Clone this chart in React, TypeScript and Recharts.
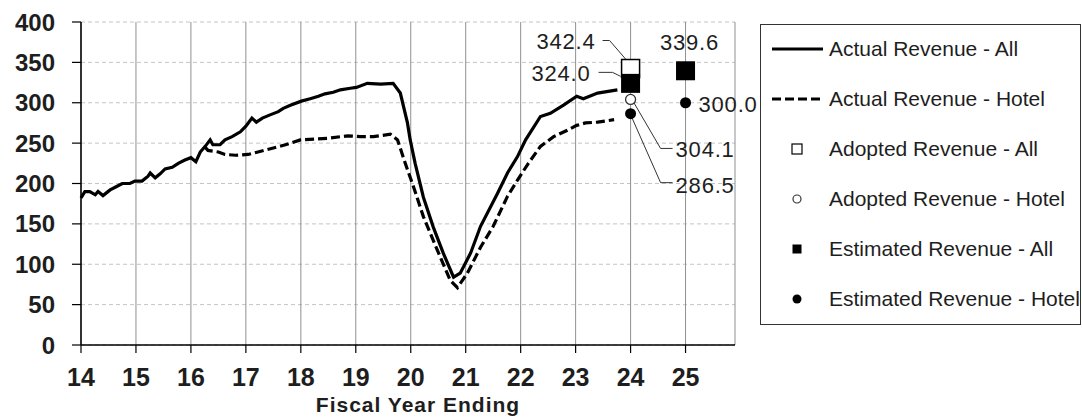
import React from "react"
import {
  ComposedChart,
  Line,
  Scatter,
  XAxis,
  YAxis,
  CartesianGrid,
} from "recharts"

// fiscal year (decimal) and revenue
const actualAll: [number, number][] = [
  [14.0, 182], [14.07, 190], [14.16, 190], [14.26, 186], [14.31, 190], [14.4, 185],
  [14.53, 192], [14.64, 196], [14.75, 200], [14.89, 200], [14.98, 203], [15.11, 203],
  [15.22, 209], [15.26, 213], [15.35, 207], [15.44, 212], [15.53, 218], [15.66, 220],
  [15.77, 225], [15.89, 229], [16.0, 232], [16.09, 227], [16.17, 239], [16.26, 246],
  [16.35, 254], [16.4, 248], [16.53, 248], [16.62, 254], [16.75, 258], [16.9, 264],
  [17.0, 271], [17.11, 281], [17.19, 276], [17.3, 281], [17.44, 285], [17.59, 289],
  [17.68, 293], [17.81, 297], [18.01, 302], [18.17, 305], [18.32, 308], [18.44, 311],
  [18.59, 313], [18.72, 316], [18.9, 318], [19.01, 319], [19.21, 324], [19.45, 323],
  [19.68, 324], [19.81, 312], [19.94, 275], [19.99, 254], [20.08, 225], [20.23, 183],
  [20.41, 146], [20.59, 114], [20.76, 87], [20.78, 84], [20.9, 89], [21.09, 114],
  [21.27, 147], [21.58, 188], [21.76, 213], [21.94, 233], [22.09, 254], [22.36, 283],
  [22.54, 287], [22.78, 297], [23.02, 308], [23.14, 305], [23.4, 312], [23.76, 316],
]

const actualHotel: [number, number][] = [
  [16.26, 245], [16.31, 241], [16.5, 239], [16.62, 236], [16.81, 235], [17.04, 236],
  [17.22, 239], [17.5, 244], [17.72, 248], [17.99, 254], [18.26, 255], [18.48, 256],
  [18.85, 259], [19.08, 258], [19.32, 258], [19.63, 261], [19.76, 254], [19.9, 225],
  [20.05, 196], [20.23, 159], [20.48, 118], [20.72, 80], [20.85, 71], [21.03, 89],
  [21.27, 121], [21.5, 147], [21.76, 184], [21.94, 204], [22.14, 225], [22.36, 246],
  [22.6, 258], [22.85, 266], [23.02, 272], [23.18, 275], [23.4, 276], [23.7, 279],
]

const adoptedAll: [number, number][] = [[24, 342.4]]
const adoptedHotel: [number, number][] = [[24, 304.1]]
const estimatedAll: [number, number][] = [[24, 324.0], [25, 339.6]]
const estimatedHotel: [number, number][] = [[24, 286.5], [25, 300.0]]

const xTicks = [14, 15, 16, 17, 18, 19, 20, 21, 22, 23, 24, 25]
const yTicks = [0, 50, 100, 150, 200, 250, 300, 350, 400]

const legendNames = [
  "Actual Revenue - All",
  "Actual Revenue - Hotel",
  "Adopted Revenue - All",
  "Adopted Revenue - Hotel",
  "Estimated Revenue - All",
  "Estimated Revenue - Hotel",
]

const FONT = '"Liberation Sans", Arial, sans-serif'
const TEXT = "#1e1e1e"

const toPoints = (rows: [number, number][]) => rows.map(([t, v]) => ({ t, v }))

// where each value label sits relative to its marker
type LabelSpot = { dx: number; dy: number; anchor: "start" | "middle" | "end"; leader?: string }
const labelSpots: Record<string, LabelSpot> = {
  "adoptedAll-24": { dx: -35, dy: -20, anchor: "end", leader: "M-28,-28 H-21 L-2,-6" },
  "estimatedAll-24": { dx: -40, dy: -2, anchor: "end", leader: "M-32,-11 H-18 L-10,-7" },
  "estimatedAll-25": { dx: 4, dy: -21, anchor: "middle" },
  "estimatedHotel-25": { dx: 13, dy: 9, anchor: "start" },
  "adoptedHotel-24": { dx: 45, dy: 58, anchor: "start", leader: "M2,1 L30,49 H42" },
  "estimatedHotel-24": { dx: 45, dy: 79, anchor: "start", leader: "M0,1 L30,69 H42" },
}

function ValueLabel({ id, cx, cy, t, v }: any) {
  const spot = labelSpots[`${id}-${t}`]
  if (!spot) return null
  return (
    <g>
      {spot.leader && (
        <path
          d={spot.leader}
          transform={`translate(${cx},${cy})`}
          fill="none"
          stroke="#333"
          strokeWidth={1}
        />
      )}
      <text
        x={cx + spot.dx}
        y={cy + spot.dy}
        textAnchor={spot.anchor}
        fontFamily={FONT}
        fontSize={22}
        letterSpacing={0.8}
        fill={TEXT}
      >
        {v.toFixed(1)}
      </text>
    </g>
  )
}

const makeShape = (id: string, kind: "hollowSquare" | "square" | "hollowCircle" | "circle") =>
  (props: any) => {
    const { cx, cy, payload } = props
    let mark = null
    if (kind === "hollowSquare")
      mark = <rect x={cx - 9} y={cy - 9} width={18} height={18} fill="#fff" stroke="#000" strokeWidth={1.5} />
    if (kind === "square")
      mark = <rect x={cx - 9.5} y={cy - 9.5} width={19} height={19} fill="#000" />
    if (kind === "hollowCircle")
      mark = <circle cx={cx} cy={cy} r={5} fill="#fff" stroke="#333" strokeWidth={1.3} />
    if (kind === "circle") mark = <circle cx={cx} cy={cy} r={5.5} fill="#000" />
    return (
      <g>
        <ValueLabel id={id} cx={cx} cy={cy} t={payload.t} v={payload.v} />
        {mark}
      </g>
    )
  }

function AxisTitle(props: any) {
  const vb = props.viewBox
  if (!vb) return null
  return (
    <text
      x={vb.x + vb.width / 2 + 10}
      y={vb.y + vb.height - 6}
      textAnchor="middle"
      fontFamily={FONT}
      fontWeight="bold"
      fontSize={21}
      letterSpacing={1}
      fill={TEXT}
    >
      Fiscal Year Ending
    </text>
  )
}

function LegendSymbol({ index }: { index: number }) {
  const cy = 25
  switch (index) {
    case 0:
      return <line x1={0} x2={51} y1={cy} y2={cy} stroke="#000" strokeWidth={3} />
    case 1:
      return <line x1={0} x2={51} y1={cy} y2={cy} stroke="#000" strokeWidth={3} strokeDasharray="9 4" />
    case 2:
      return <rect x={20} y={cy - 5} width={10} height={10} fill="#fff" stroke="#000" strokeWidth={1.2} />
    case 3:
      return <circle cx={25} cy={cy} r={4} fill="#fff" stroke="#333" strokeWidth={1.2} />
    case 4:
      return <rect x={20.5} y={cy - 4.5} width={9} height={9} fill="#000" />
    default:
      return <circle cx={25} cy={cy} r={4.5} fill="#000" />
  }
}

function LegendBox() {
  return (
    <div
      style={{
        position: "absolute",
        left: 760,
        top: 24,
        width: 321,
        height: 301,
        boxSizing: "border-box",
        border: "1px solid #333",
        background: "#fff",
      }}
    >
      {legendNames.map((name, i) => (
        <div
          key={name}
          style={{ position: "absolute", left: 0, top: i * 50 - 1, height: 50, width: 319 }}
        >
          <svg width={52} height={50} style={{ position: "absolute", left: 11, top: 0 }}>
            <LegendSymbol index={i} />
          </svg>
          <span
            style={{
              position: "absolute",
              left: 68,
              top: 0,
              lineHeight: "50px",
              fontFamily: FONT,
              fontSize: 21,
              color: TEXT,
              whiteSpace: "nowrap",
            }}
          >
            {name}
          </span>
        </div>
      ))}
    </div>
  )
}

export default function App() {
  return (
    <div style={{ position: "absolute", left: 0, top: 0, width: 1082, height: 418, background: "#fff" }}>
      <ComposedChart
        width={1082}
        height={418}
        margin={{ top: 22, right: 347, bottom: 0, left: 11 }}
      >
        <CartesianGrid horizontal vertical={false} stroke="#c4c4c4" strokeDasharray="4 3" />
        <CartesianGrid horizontal={false} vertical stroke="#909090" />
        <XAxis
          dataKey="t"
          type="number"
          domain={[14, 25.9]}
          ticks={xTicks}
          interval={0}
          height={73}
          tickSize={8}
          tickMargin={15}
          axisLine={{ stroke: "#000", strokeWidth: 1.5 }}
          tickLine={{ stroke: "#000", strokeWidth: 1.2 }}
          tick={{ fill: TEXT, fontSize: 25, fontWeight: "bold", fontFamily: FONT }}
          label={<AxisTitle />}
        />
        <YAxis
          dataKey="v"
          type="number"
          domain={[0, 400]}
          ticks={yTicks}
          interval={0}
          width={70}
          tickSize={9}
          tickMargin={17}
          axisLine={{ stroke: "#000", strokeWidth: 1.5 }}
          tickLine={{ stroke: "#000", strokeWidth: 1.2 }}
          tick={{ fill: TEXT, fontSize: 24, fontWeight: "bold", fontFamily: FONT }}
        />
        <Line
          data={toPoints(actualAll)}
          dataKey="v"
          type="linear"
          stroke="#000"
          strokeWidth={3.2}
          dot={false}
          isAnimationActive={false}
        />
        <Line
          data={toPoints(actualHotel)}
          dataKey="v"
          type="linear"
          stroke="#000"
          strokeWidth={3.2}
          strokeDasharray="9 4"
          dot={false}
          isAnimationActive={false}
        />
        <Scatter
          data={toPoints(adoptedAll)}
          dataKey="v"
          shape={makeShape("adoptedAll", "hollowSquare")}
          isAnimationActive={false}
        />
        <Scatter
          data={toPoints(estimatedAll)}
          dataKey="v"
          shape={makeShape("estimatedAll", "square")}
          isAnimationActive={false}
        />
        <Scatter
          data={toPoints(adoptedHotel)}
          dataKey="v"
          shape={makeShape("adoptedHotel", "hollowCircle")}
          isAnimationActive={false}
        />
        <Scatter
          data={toPoints(estimatedHotel)}
          dataKey="v"
          shape={makeShape("estimatedHotel", "circle")}
          isAnimationActive={false}
        />
      </ComposedChart>
      <LegendBox />
    </div>
  )
}
